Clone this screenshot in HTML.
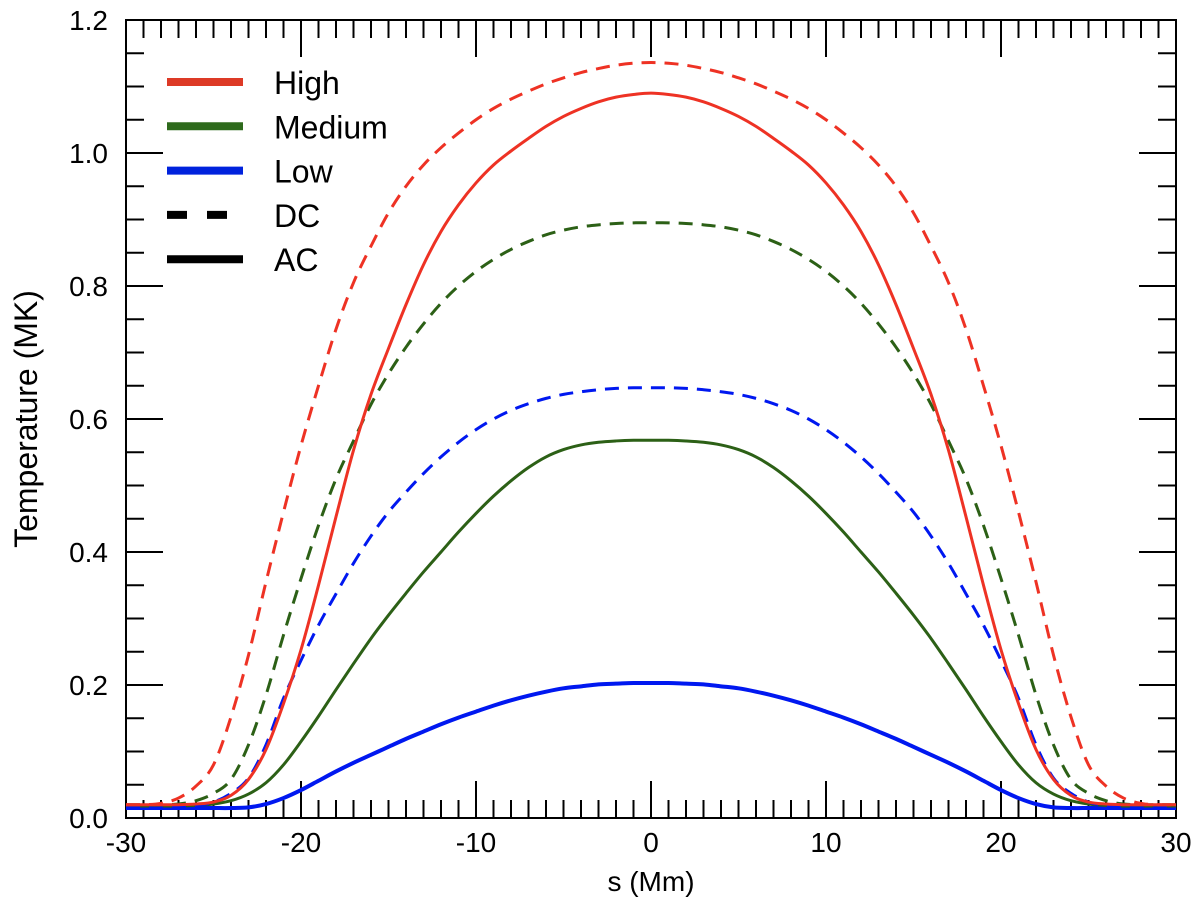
<!DOCTYPE html>
<html><head><meta charset="utf-8"><style>
html,body{margin:0;padding:0;background:#fff;}
svg{display:block;font-family:"Liberation Sans",Arial,sans-serif;}
</style></head><body>
<svg id="chart" width="1200" height="904" viewBox="0 0 1200 904" xmlns="http://www.w3.org/2000/svg">
<g id="axes"></g>
<g id="series"></g>
<g id="legend"></g>
<text x="651" y="891" font-size="28" text-anchor="middle">s (Mm)</text>
<text x="0" y="0" font-size="32" text-anchor="middle" transform="translate(37,419) rotate(-90)">Temperature (MK)</text>
</svg>
<script>
const sVals = [-30,-29,-28,-27,-26,-25,-24,-23,-22,-21,-20,-19,-18,-17,-16,-15,-14,-13,-12,-11,-10,-9,-8,-7,-6,-5,-4,-3,-2,-1,0,1,2,3,4,5,6,7,8,9,10,11,12,13,14,15,16,17,18,19,20,21,22,23,24,25,26,27,28,29,30];
const highAC = [.02,.02,.02,.02,.021,.024,.034,.058,.103,.172,.253,.35,.453,.553,.637,.706,.772,.832,.882,.922,.955,.982,1.003,1.022,1.04,1.055,1.067,1.077,1.084,1.088,1.09,1.088,1.084,1.077,1.067,1.055,1.04,1.022,1.003,.982,.955,.922,.882,.832,.772,.706,.637,.553,.453,.35,.253,.172,.103,.058,.034,.024,.021,.02,.02,.02,.02];
const highDC = [.02,.02,.022,.03,.048,.08,.152,.245,.355,.46,.56,.65,.735,.805,.86,.91,.95,.982,1.008,1.03,1.05,1.067,1.081,1.093,1.104,1.113,1.121,1.127,1.132,1.135,1.136,1.135,1.132,1.127,1.121,1.113,1.104,1.093,1.081,1.067,1.05,1.03,1.008,.982,.95,.91,.86,.805,.735,.65,.56,.46,.355,.245,.152,.08,.048,.03,.022,.02,.02];
const medAC = [.018,.018,.018,.018,.019,.021,.026,.036,.053,.08,.115,.153,.193,.232,.27,.305,.338,.37,.4,.43,.458,.484,.507,.527,.543,.554,.561,.565,.567,.568,.568,.568,.567,.565,.561,.554,.543,.527,.507,.484,.458,.43,.4,.37,.338,.305,.27,.232,.193,.153,.115,.08,.053,.036,.026,.021,.019,.018,.018,.018,.018];
const medDC = [.02,.02,.02,.021,.026,.037,.058,.11,.185,.275,.36,.44,.51,.567,.622,.668,.708,.743,.774,.8,.822,.84,.855,.867,.877,.884,.889,.892,.894,.895,.895,.895,.894,.892,.889,.884,.877,.867,.855,.84,.822,.8,.774,.743,.708,.668,.622,.567,.51,.44,.36,.275,.185,.11,.058,.037,.026,.021,.02,.02,.02];
const lowAC = [.015,.015,.015,.015,.015,.015,.015,.016,.021,.03,.042,.056,.07,.083,.095,.107,.119,.13,.141,.151,.16,.169,.177,.184,.19,.195,.198,.201,.202,.203,.203,.203,.202,.201,.198,.195,.19,.184,.177,.169,.16,.151,.141,.13,.119,.107,.095,.083,.07,.056,.042,.03,.021,.016,.015,.015,.015,.015,.015,.015,.015];
const lowDC = [.015,.015,.015,.016,.018,.024,.037,.06,.11,.18,.237,.29,.337,.383,.424,.46,.49,.518,.543,.565,.584,.6,.613,.623,.631,.637,.641,.644,.646,.647,.647,.647,.646,.644,.641,.637,.631,.623,.613,.6,.584,.565,.543,.518,.49,.46,.424,.383,.337,.29,.237,.18,.11,.06,.037,.024,.018,.016,.015,.015,.015];
const xTickLabels = ["-30","-20","-10","0","10","20","30"];
const yTickLabels = ["0.0","0.2","0.4","0.6","0.8","1.0","1.2"];
const legendNames = ["High","Medium","Low","DC","AC"];

const X0=126,X1=1176,Y0=818,Y1=20, XMIN=-30,XMAX=30,YMIN=0,YMAX=1.2;
const xs=v=>X0+(v-XMIN)/(XMAX-XMIN)*(X1-X0);
const ys=v=>Y0-(v-YMIN)/(YMAX-YMIN)*(Y0-Y1);
const NS="http://www.w3.org/2000/svg";
function mk(tag,parent){const e=document.createElementNS(NS,tag);parent.appendChild(e);return e;}
const axes=document.getElementById('axes');
const frame=mk('rect',axes);


frame.setAttribute('x',X0);frame.setAttribute('y',Y1);frame.setAttribute('width',X1-X0);frame.setAttribute('height',Y0-Y1);
frame.setAttribute('fill','none');frame.setAttribute('stroke','#000');frame.setAttribute('stroke-width','2');
for(let v=XMIN;v<=XMAX;v+=1){
  const major=(v%10===0);const L=major?37:18;const x=xs(v);
  [[Y0,Y0-L],[Y1,Y1+L]].forEach(([a,b])=>{
    const t=mk('line',axes);
    
    
    t.setAttribute('x1',x);t.setAttribute('x2',x);t.setAttribute('y1',a);t.setAttribute('y2',b);t.setAttribute('stroke','#000');t.setAttribute('stroke-width','2');
  });
}
xTickLabels.forEach(lb=>{
  const t=mk('text',axes);
  
  
  t.setAttribute('x',xs(parseFloat(lb)));t.setAttribute('y',852);t.setAttribute('font-size','28');t.setAttribute('text-anchor','middle');t.textContent=lb;
});
for(let i=0;i<=24;i++){
  const v=i*0.05;const major=(i%4===0);const L=major?37:18;const y=ys(v);
  [[X0,X0+L],[X1,X1-L]].forEach(([a,b])=>{
    const t=mk('line',axes);
    
    
    t.setAttribute('y1',y);t.setAttribute('y2',y);t.setAttribute('x1',a);t.setAttribute('x2',b);t.setAttribute('stroke','#000');t.setAttribute('stroke-width','2');
  });
}
yTickLabels.forEach(lb=>{
  const t=mk('text',axes);
  
  
  t.setAttribute('x',108);t.setAttribute('y',ys(parseFloat(lb))+10);t.setAttribute('font-size','28');t.setAttribute('text-anchor','end');t.textContent=lb;
});
function pathFor(vals){
  const p=sVals.map((s,i)=>[xs(s),ys(vals[i])]);
  let d='M'+p[0][0].toFixed(2)+','+p[0][1].toFixed(2);
  for(let i=0;i<p.length-1;i++){
    const p0=p[Math.max(0,i-1)],p1=p[i],p2=p[i+1],p3=p[Math.min(p.length-1,i+2)];
    const c1=[p1[0]+(p2[0]-p0[0])/6,p1[1]+(p2[1]-p0[1])/6];
    const c2=[p2[0]-(p3[0]-p1[0])/6,p2[1]-(p3[1]-p1[1])/6];
    d+=' C'+c1.map(n=>n.toFixed(2)).join(',')+' '+c2.map(n=>n.toFixed(2)).join(',')+' '+p2[0].toFixed(2)+','+p2[1].toFixed(2);
  }
  return d;
}
const seriesG=document.getElementById('series');
const defs=[
  ['low-ac-line',lowAC,'#0018f0',false],
  ['medium-ac-line',medAC,'#2c6016',false],
  ['low-dc-line',lowDC,'#0018f0',true],
  ['medium-dc-line',medDC,'#2c6016',true],
  ['high-ac-line',highAC,'#ee3224',false],
  ['high-dc-line',highDC,'#ee3224',true]
];
defs.forEach(([name,vals,col,dash])=>{
  const p=mk('path',seriesG);
  
  
  p.setAttribute('d',pathFor(vals));p.setAttribute('fill','none');p.setAttribute('stroke',col);
  p.setAttribute('stroke-width',name.startsWith('low-ac')?4:3);
  if(dash)p.setAttribute('stroke-dasharray','14 9');
});
const leg=document.getElementById('legend');
const legCols=['#dd3a26','#2e6a1c','#0022dd','#000','#000'];
legendNames.forEach((nm,i)=>{
  const y=82+i*44.3;
  const l=mk('line',leg);
  
  
  l.setAttribute('x1',167);l.setAttribute('x2',243);l.setAttribute('y1',y);l.setAttribute('y2',y);
  l.setAttribute('stroke',legCols[i]);l.setAttribute('stroke-width','8');
  if(nm==='DC')l.setAttribute('stroke-dasharray','20 20');
  const t=mk('text',leg);
  
  
  t.setAttribute('x',274);t.setAttribute('y',y+12);t.setAttribute('font-size','32');t.textContent=nm;
});
</script>
</body></html>
